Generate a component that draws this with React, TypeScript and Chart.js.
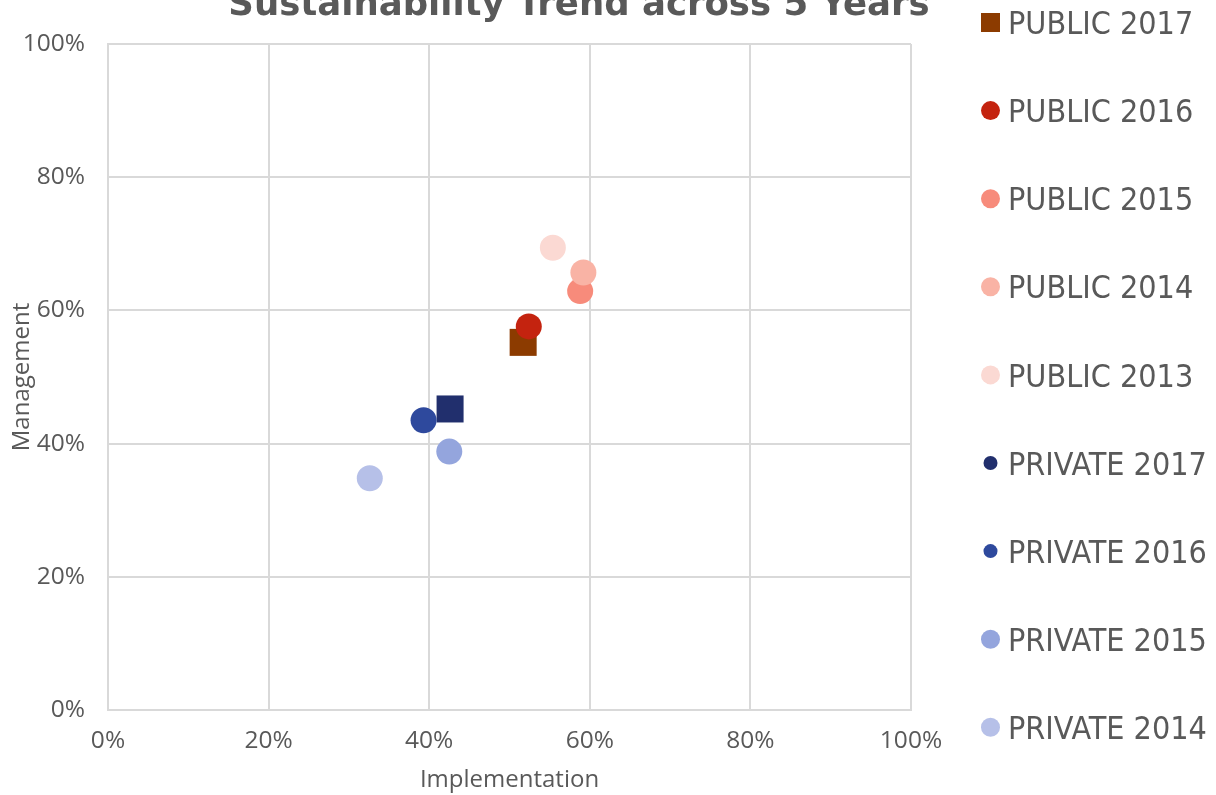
import React, { useEffect, useRef } from "react";
import { Chart, registerables } from "chart.js";

Chart.register(...registerables);

// Series names (legend order, top to bottom)
const seriesNames = [
  "PUBLIC 2017",
  "PUBLIC 2016",
  "PUBLIC 2015",
  "PUBLIC 2014",
  "PUBLIC 2013",
  "PRIVATE 2017",
  "PRIVATE 2016",
  "PRIVATE 2015",
  "PRIVATE 2014",
];

// Implementation score (%) per series
const implementation = [51.7, 52.4, 58.8, 59.2, 55.4, 42.6, 39.3, 42.5, 32.6];
// Management score (%) per series
const management = [55.2, 57.6, 62.9, 65.7, 69.4, 45.2, 43.5, 38.8, 34.8];

// Axis tick values (%)
const axisTicks = [0, 20, 40, 60, 80, 100];

const chartTitle = "Sustainability Trend across 5 Years";
const xTitle = "Implementation";
const yTitle = "Management";

// Styling
const seriesColors = [
  "#8C3B00",
  "#C4230F",
  "#F78B7B",
  "#F9B3A5",
  "#FBD9D3",
  "#212F6D",
  "#2E499D",
  "#94A5DD",
  "#B6C0E8",
];
const pointShapes = ["rect", "circle", "circle", "circle", "circle", "rect", "circle", "circle", "circle"];
const legendShapes = ["rect", "circle", "circle", "circle", "circle", "circle", "circle", "circle", "circle"];
const legendMarkerSizes = [19, 19, 19, 19, 19, 14, 14, 19, 19];

const TEXT_COLOR = "#595959";
const GRID_COLOR = "#d9d9d9";

const titlePlugin = {
  id: "topTitle",
  afterDraw(chart: any) {
    const ctx = chart.ctx;
    ctx.save();
    ctx.fillStyle = TEXT_COLOR;
    ctx.font = "bold 35.5px 'DejaVu Sans'";
    ctx.textAlign = "center";
    ctx.textBaseline = "alphabetic";
    ctx.fillText(chartTitle, 579, 15);
    ctx.restore();
  },
};

const sideLegendPlugin = {
  id: "sideLegend",
  afterDraw(chart: any) {
    const ctx = chart.ctx;
    const fontSize = 32;
    const top = 22.5;
    const step = 88.1;
    const markerX = 990.5;
    const textX = 1008;
    ctx.save();
    ctx.font = `${fontSize}px 'DejaVu Sans Condensed', 'DejaVu Sans'`;
    ctx.textAlign = "left";
    ctx.textBaseline = "alphabetic";
    chart.data.datasets.forEach((ds: any, i: number) => {
      const cy = top + i * step;
      const size = legendMarkerSizes[i];
      ctx.fillStyle = seriesColors[i];
      if (legendShapes[i] === "rect") {
        ctx.fillRect(markerX - size / 2, cy - size / 2, size, size);
      } else {
        ctx.beginPath();
        ctx.arc(markerX, cy, size / 2, 0, Math.PI * 2);
        ctx.fill();
      }
      ctx.fillStyle = TEXT_COLOR;
      ctx.fillText(ds.label, textX, cy + fontSize * 0.3645);
    });
    ctx.restore();
  },
};

export default function App() {
  const canvasRef = useRef<HTMLCanvasElement | null>(null);

  useEffect(() => {
    document.body.style.margin = "0";
    const canvas = canvasRef.current;
    if (!canvas) return;

    const datasets = seriesNames.map((name, i) => ({
      label: name,
      data: [{ x: implementation[i], y: management[i] }],
      backgroundColor: seriesColors[i],
      borderColor: seriesColors[i],
      borderWidth: 0,
      pointStyle: pointShapes[i],
      pointRadius: pointShapes[i] === "rect" ? 19.1 : 13,
      pointHoverRadius: pointShapes[i] === "rect" ? 19.1 : 13,
      // later series are painted above earlier ones
      order: seriesNames.length - i,
    }));

    const tickFont = { family: "'Open Sans'", size: 24.5 };
    const titleFont = { family: "'Open Sans'", size: 24 };

    const chart = new Chart(canvas, {
      type: "scatter",
      data: { datasets },
      plugins: [titlePlugin, sideLegendPlugin],
      options: {
        responsive: false,
        animation: false,
        layout: { padding: { top: 44, right: 305, left: 0, bottom: 0 } },
        plugins: {
          legend: { display: false },
          tooltip: { enabled: false },
          title: { display: false },
        },
        scales: {
          x: {
            type: "linear",
            min: 0,
            max: 100,
            afterBuildTicks: (scale: any) => {
              scale.ticks = axisTicks.map((v) => ({ value: v }));
            },
            afterFit: (scale: any) => {
              scale.height = 85;
            },
            grid: { color: GRID_COLOR, lineWidth: 2, drawTicks: false },
            border: { color: GRID_COLOR, width: 2 },
            ticks: {
              color: TEXT_COLOR,
              font: tickFont,
              padding: 16,
              callback: (v: any) => `${v}%`,
            },
            title: {
              display: true,
              text: xTitle,
              color: TEXT_COLOR,
              font: titleFont,
              padding: { top: 4, bottom: 0 },
            },
          },
          y: {
            type: "linear",
            min: 0,
            max: 100,
            afterBuildTicks: (scale: any) => {
              scale.ticks = axisTicks.map((v) => ({ value: v }));
            },
            afterFit: (scale: any) => {
              scale.width = 108;
            },
            grid: { color: GRID_COLOR, lineWidth: 2, drawTicks: false },
            border: { color: GRID_COLOR, width: 2 },
            ticks: {
              color: TEXT_COLOR,
              font: tickFont,
              padding: 23,
              callback: (v: any) => `${v}%`,
            },
            title: {
              display: true,
              text: yTitle,
              color: TEXT_COLOR,
              font: titleFont,
              padding: { top: 8, bottom: 0 },
            },
          },
        },
      } as any,
    });

    return () => chart.destroy();
  }, []);

  return (
    <div style={{ width: 1216, height: 795 }}>
      <canvas ref={canvasRef} width={1216} height={795} />
    </div>
  );
}
